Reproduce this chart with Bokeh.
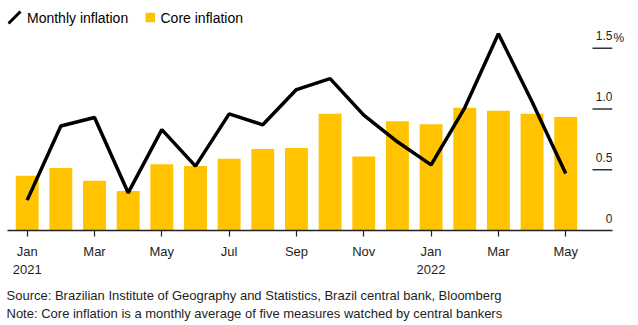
from bokeh.plotting import figure
from bokeh.models import (Range1d, FixedTicker, LinearAxis, Label, BoxAnnotation,
                          Arrow, ColumnDataSource, Title)
from bokeh.embed import file_html
from bokeh.resources import INLINE

# ---------------- data ----------------
months = ["Jan 2021", "Feb 2021", "Mar 2021", "Apr 2021", "May 2021", "Jun 2021",
          "Jul 2021", "Aug 2021", "Sep 2021", "Oct 2021", "Nov 2021", "Dec 2021",
          "Jan 2022", "Feb 2022", "Mar 2022", "Apr 2022", "May 2022"]
monthly_inflation = [0.25, 0.86, 0.93, 0.31, 0.83, 0.53, 0.96, 0.87, 1.16, 1.25,
                     0.95, 0.73, 0.54, 1.01, 1.62, 1.06, 0.47]
core_inflation = [0.45, 0.515, 0.41, 0.325, 0.545, 0.53, 0.59, 0.67, 0.68, 0.96,
                  0.61, 0.90, 0.875, 1.01, 0.985, 0.96, 0.935]
x_tick_positions = [0, 2, 4, 6, 8, 10, 12, 14, 16]
x_tick_labels = ["Jan\n2021", "Mar", "May", "Jul", "Sep", "Nov", "Jan\n2022", "Mar", "May"]
y_tick_values = [0, 0.5, 1.0, 1.5]
y_tick_labels = ["0", "0.5", "1.0", "1.5"]
y_unit = "%"
legend_labels = ["Monthly inflation", "Core inflation"]
source_note = "Source: Brazilian Institute of Geography and Statistics, Brazil central bank, Bloomberg"
note_text = "Note: Core inflation is a monthly average of five measures watched by central bankers"

FONT = "Liberation Sans"
YELLOW = "#FFC300"
TEXT = "#1e1e1e"

idx = list(range(len(months)))
src = ColumnDataSource(dict(x=idx, core=core_inflation, monthly=monthly_inflation))

x_start, x_end = -0.585, 17.39
y_end = 1.893
px_per_x = 605 / (x_end - x_start)
px_per_y = 230 / y_end

p = figure(width=638, height=325, frame_width=605, frame_height=230,
           output_backend="svg", toolbar_location=None,
           x_range=Range1d(x_start, x_end), y_range=Range1d(0, y_end),
           y_axis_location=None, min_border_left=7, min_border_right=26,
           min_border_top=0, min_border_bottom=95, outline_line_color=None,
           background_fill_color="white", border_fill_color="white")
p.grid.visible = False

p.vbar(x="x", top="core", width=0.68, source=src, fill_color=YELLOW, line_color=None)
p.line(x="x", y="monthly", source=src, line_color="black", line_width=3.5)

# short right-hand grid lines
grid_vals = y_tick_values[1:]
p.segment(x0=[x_end - 20 / px_per_x] * len(grid_vals), x1=[x_end] * len(grid_vals),
          y0=grid_vals, y1=grid_vals, line_color="#333333", line_width=1.3)

# x axis
xa = p.xaxis[0]
xa.ticker = FixedTicker(ticks=x_tick_positions)
xa.major_label_overrides = {k: v for k, v in zip(x_tick_positions, x_tick_labels)}
xa.axis_line_color = "#222222"
xa.axis_line_width = 1.5
xa.major_tick_line_color = "#222222"
xa.major_tick_line_width = 1.2
xa.major_tick_out = 6
xa.major_tick_in = 0
xa.minor_tick_out = 0
xa.minor_tick_in = 0
xa.major_label_standoff = 7
xa.major_label_text_font = FONT
xa.major_label_text_font_size = "13px"
xa.major_label_text_color = TEXT
xa.major_label_text_line_height = 1.25

# right-side value labels (numbers right-aligned at the grid line end)
for v, lbl in zip(y_tick_values, y_tick_labels):
    p.add_layout(Label(x=x_end, y=v, text=lbl, text_align="right",
                       text_baseline="alphabetic", y_offset=12.5,
                       text_font=FONT, text_font_size="12px", text_color=TEXT))

# unit sign outside the frame via a shifted right axis
shift = 10 / px_per_y
p.extra_y_ranges = {"lbl": Range1d(-shift, y_end - shift)}
ua = LinearAxis(y_range_name="lbl", ticker=FixedTicker(ticks=[y_tick_values[-1]]),
                major_label_overrides={y_tick_values[-1]: y_unit},
                axis_line_color=None, major_tick_in=0, major_tick_out=0,
                minor_tick_in=0, minor_tick_out=0, major_label_standoff=1,
                major_label_text_font=FONT, major_label_text_font_size="12px",
                major_label_text_color=TEXT)
p.add_layout(ua, "right")

# legend
p.add_layout(Arrow(end=None, x_start=8, y_start=23, x_end=20, y_end=11,
                   start_units="canvas", end_units="canvas",
                   line_width=3, line_color="black"))
p.add_layout(Label(x=26.5, y=17, x_units="canvas", y_units="canvas",
                   text=legend_labels[0], text_baseline="middle",
                   text_font=FONT, text_font_size="14px", text_color="black"))
p.add_layout(BoxAnnotation(left=145, right=154.5, top=12.3, bottom=21.7,
                           left_units="canvas", right_units="canvas",
                           top_units="canvas", bottom_units="canvas",
                           fill_color=YELLOW, fill_alpha=1, line_color=None))
p.add_layout(Label(x=160, y=17, x_units="canvas", y_units="canvas",
                   text=legend_labels[1], text_baseline="middle",
                   text_font=FONT, text_font_size="14px", text_color="black"))

# notes (one two-line title under the axis)
p.add_layout(Title(text=source_note + "\n" + note_text, align="left", offset=-1,
                   standoff=14, vertical_align="top",
                   text_font=FONT, text_font_size="13px", text_line_height=1.2,
                   text_font_style="normal", text_color=TEXT), "below")

open("out.html", "w").write(file_html(p, INLINE))
